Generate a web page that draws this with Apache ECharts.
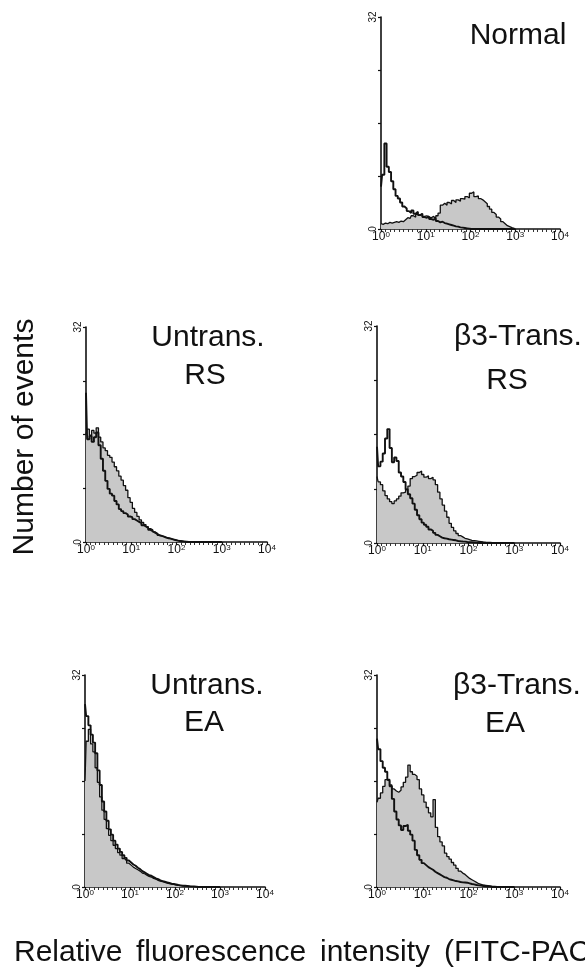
<!DOCTYPE html>
<html>
<head>
<meta charset="utf-8">
<script src="https://cdn.jsdelivr.net/npm/echarts@6/dist/echarts.min.js"></script>
<style>
  html, body { margin: 0; padding: 0; background: #fff; }
  #chart { width: 585px; height: 968px; }
</style>
</head>
<body>
<div id="chart"></div>
<script>
// histogram channels, in decades of log10(intensity)
const bins = [
  0, 0.05, 0.1, 0.15, 0.2, 0.25, 0.3, 0.35, 0.4, 0.45,
  0.5, 0.55, 0.6, 0.65, 0.7, 0.75, 0.8, 0.85, 0.9, 0.95,
  1, 1.05, 1.1, 1.15, 1.2, 1.25, 1.3, 1.35, 1.4, 1.45,
  1.5, 1.55, 1.6, 1.65, 1.7, 1.75, 1.8, 1.85, 1.9, 1.95,
  2, 2.05, 2.1, 2.15, 2.2, 2.25, 2.3, 2.35, 2.4, 2.45,
  2.5, 2.55, 2.6, 2.65, 2.7, 2.75, 2.8, 2.85, 2.9, 2.95,
  3
];

const xTickExp = ['0', '1', '2', '3', '4'];
const yTickLabels = ['0', '', '', '', '32'];

// Normal
const normalFilled = [
  0.8, 0.7, 0.9, 0.8, 1.0, 0.9, 1.0, 1.1, 1.0, 1.2,
  1.1, 1.4, 1.7, 1.6, 2.0, 1.8, 2.2, 2.1, 2.3, 1.9,
  2.0, 1.8, 1.7, 1.9, 1.6, 2.0, 2.4, 3.6, 3.9, 3.6,
  4.0, 3.8, 4.3, 4.0, 4.4, 4.2, 4.6, 4.5, 4.9, 4.7,
  5.4, 5.6, 4.9, 5.0, 4.6, 4.4, 4.1, 3.8, 3.4, 3.0,
  2.5, 2.2, 1.8, 1.5, 1.1, 0.8, 0.5, 0.35, 0.2, 0.1,
  0
];
const normalOpen = [
  6.4, 8.2, 12.9, 9.4, 8.6, 7.2, 6.0, 5.0, 4.6, 4.0,
  3.4, 3.1, 2.7, 2.4, 2.8, 2.3, 2.6, 2.1, 2.3, 1.8,
  1.7, 1.9, 1.5, 1.4, 1.6, 1.2, 1.0, 1.1, 0.9, 0.8,
  0.7, 0.6, 0.5, 0.4, 0.35, 0.25, 0.2, 0.15, 0.1, 0.05,
  0, 0, 0, 0, 0, 0, 0, 0, 0, 0,
  0, 0, 0, 0, 0, 0, 0, 0, 0, 0,
  0
];

// Untrans. RS
const untransRsFilled = [
  16.0, 16.8, 15.9, 16.6, 16.2, 17.0, 15.6, 14.9, 14.0, 13.6,
  12.9, 12.6, 11.9, 11.2, 10.6, 9.8, 9.2, 8.4, 7.7, 6.6,
  5.9, 5.0, 4.4, 3.8, 3.3, 2.9, 2.6, 2.3, 2.0, 1.8,
  1.5, 1.3, 1.0, 0.9, 0.8, 0.7, 0.6, 0.5, 0.4, 0.3,
  0.25, 0.2, 0.15, 0.1, 0.08, 0.05, 0.03, 0, 0, 0,
  0, 0, 0, 0, 0, 0, 0, 0, 0, 0,
  0
];
const untransRsOpen = [
  22.2, 15.3, 15.8, 14.9, 15.6, 16.3, 14.4, 12.4, 10.6, 9.1,
  7.9, 7.2, 6.9, 6.1, 5.6, 4.9, 4.6, 4.3, 4.1, 3.8,
  3.7, 3.4, 3.2, 3.0, 2.8, 2.5, 2.3, 2.1, 1.8, 1.6,
  1.4, 1.2, 1.0, 0.9, 0.8, 0.65, 0.55, 0.5, 0.4, 0.3,
  0.2, 0.15, 0.1, 0.05, 0, 0, 0, 0, 0, 0,
  0, 0, 0, 0, 0, 0, 0, 0, 0, 0,
  0
];

// β3-Trans. RS
const transRsFilled = [
  9.8, 9.0, 8.6, 7.7, 7.0, 6.5, 6.1, 5.8, 6.2, 6.5,
  6.9, 7.4, 7.5, 7.9, 8.4, 9.5, 9.8, 10.0, 10.4, 10.6,
  10.1, 9.7, 9.9, 9.5, 9.7, 9.3, 8.6, 7.5, 6.5, 5.6,
  4.7, 3.8, 2.9, 2.3, 1.8, 1.4, 1.1, 0.9, 0.7, 0.6,
  0.5, 0.4, 0.35, 0.3, 0.25, 0.2, 0.15, 0.12, 0.1, 0.08,
  0.06, 0.05, 0.04, 0, 0, 0, 0, 0, 0, 0,
  0
];
const transRsOpen = [
  14.2, 11.3, 12.0, 13.2, 15.4, 16.8, 14.0, 11.9, 12.6, 12.1,
  10.4, 9.8, 9.0, 7.9, 7.2, 6.6, 5.8, 4.9, 4.1, 3.5,
  3.0, 2.7, 2.4, 2.0, 1.8, 1.5, 1.2, 1.0, 0.8, 0.7,
  0.65, 0.55, 0.5, 0.45, 0.4, 0.3, 0.25, 0.22, 0.2, 0.15,
  0.12, 0.1, 0.08, 0.05, 0, 0, 0, 0, 0, 0,
  0, 0, 0, 0, 0, 0, 0, 0, 0, 0,
  0
];

// Untrans. EA
const untransEaFilled = [
  16.0, 22.0, 23.8, 21.6, 20.4, 18.0, 15.8, 13.6, 11.6, 10.2,
  8.8, 7.8, 7.0, 6.3, 5.8, 5.2, 4.8, 4.3, 4.0, 3.6,
  3.3, 3.0, 2.8, 2.6, 2.4, 2.1, 2.0, 1.8, 1.6, 1.5,
  1.3, 1.2, 1.0, 0.9, 0.8, 0.7, 0.6, 0.5, 0.45, 0.4,
  0.3, 0.25, 0.2, 0.15, 0.12, 0.1, 0.08, 0.06, 0.05, 0,
  0, 0, 0, 0, 0, 0, 0, 0, 0, 0,
  0
];
const untransEaOpen = [
  27.6, 25.8, 24.4, 23.0, 21.8, 20.2, 17.6, 15.4, 12.9, 11.4,
  10.0, 8.7, 7.9, 7.0, 6.4, 5.8, 5.3, 4.8, 4.4, 4.0,
  3.7, 3.4, 3.2, 2.9, 2.7, 2.4, 2.2, 2.0, 1.8, 1.7,
  1.5, 1.3, 1.2, 1.0, 0.9, 0.8, 0.7, 0.6, 0.5, 0.45,
  0.4, 0.3, 0.25, 0.2, 0.18, 0.15, 0.12, 0.1, 0.1, 0.05,
  0, 0, 0, 0, 0, 0, 0, 0, 0, 0,
  0
];

// β3-Trans. EA
const transEaFilled = [
  12.8, 13.4, 14.2, 15.2, 16.2, 16.0, 15.4, 14.8, 14.5, 14.3,
  14.6, 15.1, 15.8, 16.6, 18.4, 17.4, 17.0, 16.7, 16.2, 14.8,
  13.9, 12.8, 12.0, 11.2, 10.6, 13.2, 9.0, 7.6, 6.8, 6.2,
  5.1, 4.6, 4.2, 3.7, 3.3, 2.8, 2.4, 2.1, 1.9, 1.6,
  1.3, 1.1, 0.9, 0.7, 0.5, 0.4, 0.3, 0.25, 0.2, 0.15,
  0.1, 0.08, 0.05, 0, 0, 0, 0, 0, 0, 0,
  0
];
const transEaOpen = [
  22.4, 20.8, 19.0, 18.0, 17.4, 16.2, 15.2, 13.3, 11.4, 10.2,
  9.3, 8.6, 9.2, 9.4, 8.5, 7.9, 7.0, 5.6, 4.8, 4.1,
  3.6, 3.3, 3.0, 2.8, 2.6, 2.3, 2.1, 1.9, 1.7, 1.5,
  1.4, 1.2, 1.1, 1.0, 0.9, 0.85, 0.75, 0.7, 0.68, 0.65,
  0.55, 0.45, 0.4, 0.3, 0.25, 0.2, 0.15, 0.1, 0.08, 0.05,
  0, 0, 0, 0, 0, 0, 0, 0, 0, 0,
  0
];

const FONT = '"Liberation Sans", Arial, Helvetica, sans-serif';
const INK = '#111';

const panels = [
  { grid: { left: 381, top: 17, width: 179, height: 212 }, filled: normalFilled, open: normalOpen },
  { grid: { left: 86, top: 327, width: 181, height: 215 }, filled: untransRsFilled, open: untransRsOpen },
  { grid: { left: 377, top: 326, width: 183, height: 217 }, filled: transRsFilled, open: transRsOpen },
  { grid: { left: 85, top: 675, width: 180, height: 212 }, filled: untransEaFilled, open: untransEaOpen },
  { grid: { left: 377, top: 675, width: 183, height: 212 }, filled: transEaFilled, open: transEaOpen }
];

function pairs(vals) {
  return bins.map((b, i) => [b, vals[i]]);
}

const grids = [], xAxes = [], yAxes = [], series = [];
panels.forEach((p, i) => {
  grids.push(Object.assign({ containLabel: false }, p.grid));
  xAxes.push({
    gridIndex: i,
    type: 'value',
    min: 0,
    max: 4,
    interval: 1,
    axisLine: { show: true, lineStyle: { color: INK, width: 1.6 } },
    axisTick: { show: true, length: 3, lineStyle: { color: INK, width: 1.2 } },
    minorTick: { show: true, splitNumber: 10, length: 3, lineStyle: { color: '#333', width: 1 } },
    splitLine: { show: false },
    axisLabel: {
      margin: 2,
      formatter: v => '{b|10}{s|' + xTickExp[v] + '}',
      rich: {
        b: { fontSize: 12, color: INK, fontFamily: FONT },
        s: { fontSize: 8, color: INK, fontFamily: FONT, verticalAlign: 'top' }
      }
    }
  });
  yAxes.push({
    gridIndex: i,
    type: 'value',
    min: 0,
    max: 32,
    interval: 8,
    axisLine: { show: true, lineStyle: { color: INK, width: 1.6 } },
    axisTick: { show: true, length: 3, lineStyle: { color: INK, width: 1.2 } },
    splitLine: { show: false },
    axisLabel: {
      rotate: 90,
      margin: 3,
      fontSize: 10,
      color: INK,
      fontFamily: FONT,
      formatter: v => yTickLabels[v / 8] || ''
    }
  });
  series.push({
    type: 'line',
    xAxisIndex: i,
    yAxisIndex: i,
    data: pairs(p.filled),
    step: 'middle',
    symbol: 'none',
    lineStyle: { color: INK, width: 1.3 },
    areaStyle: { color: '#c8c8c8', opacity: 1 },
    z: 2
  });
  series.push({
    type: 'line',
    xAxisIndex: i,
    yAxisIndex: i,
    data: pairs(p.open),
    step: 'middle',
    symbol: 'none',
    lineStyle: { color: INK, width: 1.9 },
    z: 3
  });
});

function label(text, x, y, extra) {
  return Object.assign({
    type: 'text',
    x: x,
    y: y,
    style: {
      text: text,
      align: 'center',
      verticalAlign: 'middle',
      fontSize: 30,
      fontFamily: FONT,
      fill: INK
    },
    z: 10
  }, extra || {});
}

function word(text, x) {
  return {
    type: 'text',
    x: x,
    y: 953,
    style: {
      text: text,
      align: 'left',
      verticalAlign: 'middle',
      fontSize: 30,
      fontFamily: FONT,
      fill: INK
    },
    z: 10
  };
}

const graphics = [
  label('Normal', 518, 36),
  label('Untrans.', 208, 338),
  label('RS', 205, 376),
  label('β3-Trans.', 518, 337),
  label('RS', 507, 381),
  label('Untrans.', 207, 686),
  label('EA', 204, 723),
  label('β3-Trans.', 517, 686),
  label('EA', 505, 724),
  label('Number of events', 25, 437, { rotation: Math.PI / 2 }),
  // x title, word by word to keep the original's wider word spacing
  word('Relative', 14),
  word('fluorescence', 136),
  word('intensity', 320),
  word('(FITC-PAC1)', 444)
];

const chart = echarts.init(document.getElementById('chart'));
chart.setOption({
  animation: false,
  backgroundColor: '#fff',
  grid: grids,
  xAxis: xAxes,
  yAxis: yAxes,
  series: series,
  graphic: graphics
});
</script>
</body>
</html>
